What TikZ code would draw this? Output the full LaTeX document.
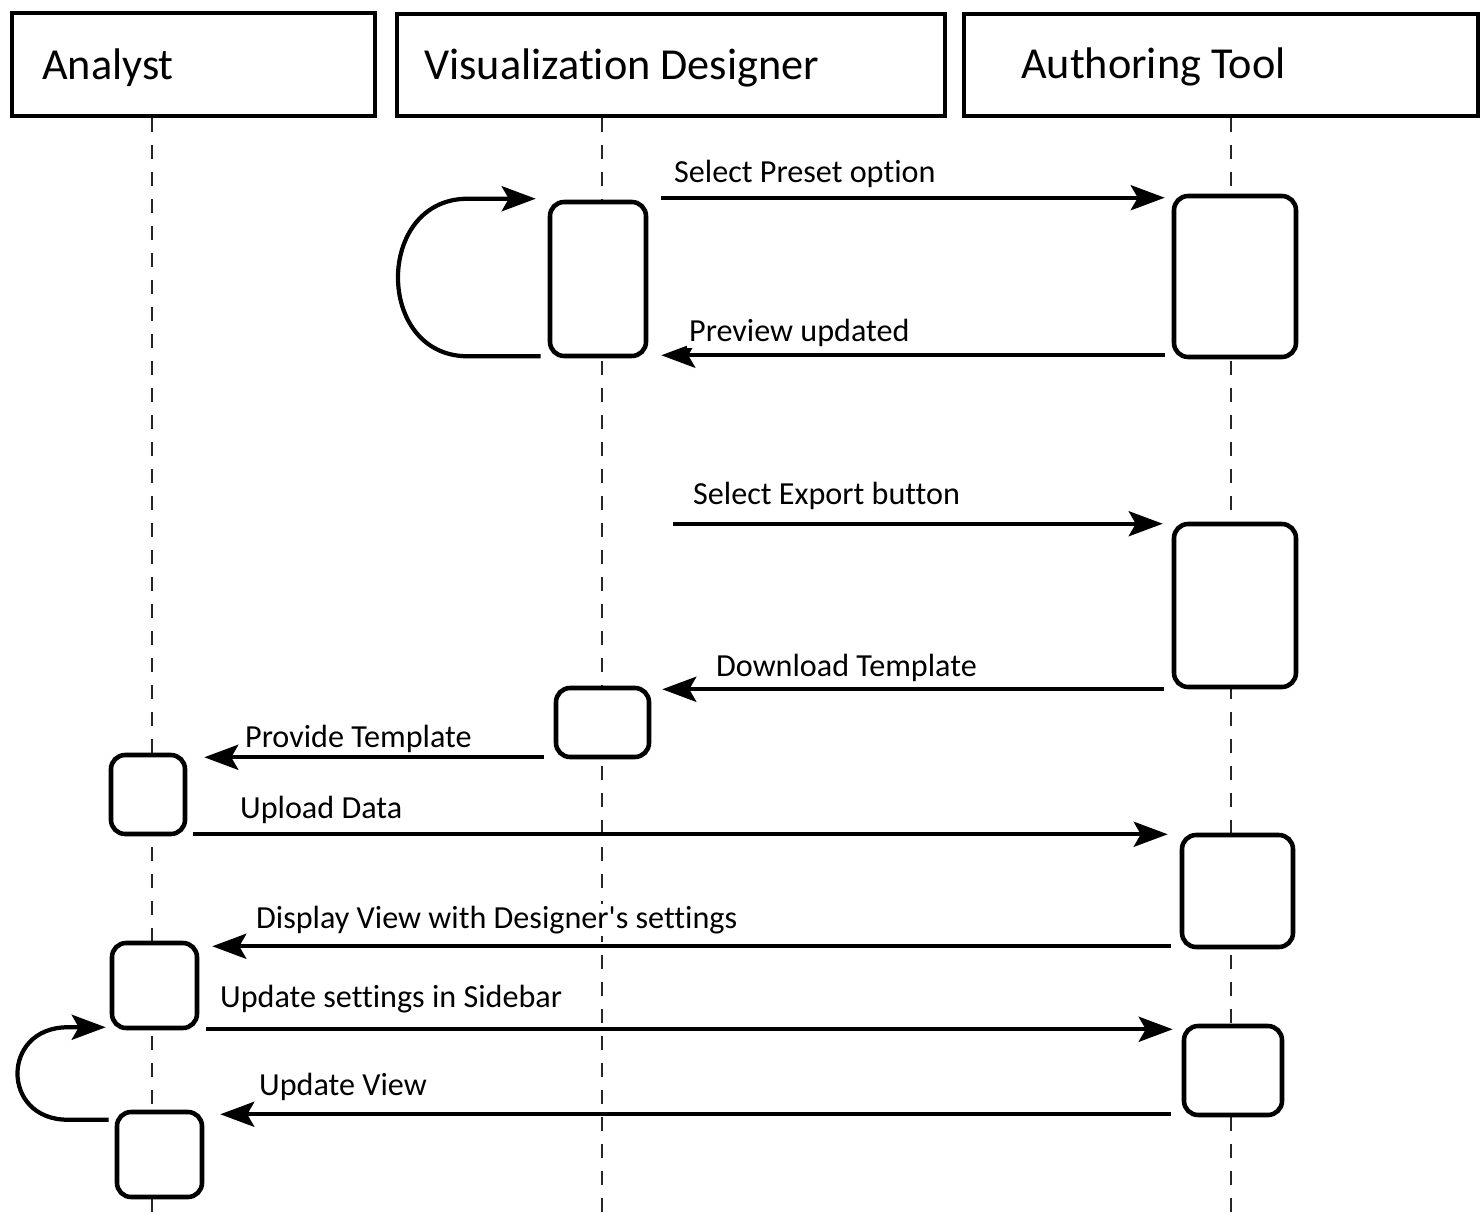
\documentclass[tikz,border=0pt]{standalone}
\usepackage{fontspec}
\setmainfont{Carlito}[Ligatures={NoCommon}]
\usetikzlibrary{arrows.meta,calc}

\begin{document}
\begin{tikzpicture}[x=0.02cm,y=-0.02cm,
    head/.style={draw,line width=2.5pt,inner sep=0},
    headtext/.style={anchor=base west,inner sep=0,font=\fontsize{25.2}{29}\selectfont},
    act/.style={draw,fill=white,line width=2.6pt,rounded corners=8pt,inner sep=0},
    life/.style={line width=0.8pt,black!85,dash pattern=on 0.28cm off 0.26cm},
    msg/.style={line width=2.4pt,-{Stealth[length=0.68cm,width=0.5cm,inset=0.14cm]}},
    lbl/.style={anchor=base west,inner sep=1pt,fill=white,font=\fontsize{18.3}{22}\selectfont}]
    \useasboundingbox (0,0) rectangle (1481,1213);

    \node[head,minimum width=7.26cm,minimum height=2.06cm] (analyst) at (193.5,64.5) {};
    \node[head,minimum width=10.96cm,minimum height=2.04cm] (designer) at (671,65) {};
    \node[head,minimum width=10.28cm,minimum height=2.04cm] (tool) at (1221,65) {};
    \node[headtext] (analysttext) at ($(analyst.west)+(32,15.5)$) {Analyst};
    \node[headtext] (designertext) at ($(designer.west)+(29,15)$) {Visualization Designer};
    \node[headtext] (tooltext) at ($(tool.west)+(59,14)$) {Authoring Tool};

    \coordinate (analystend) at (152,1213);
    \coordinate (designerend) at (602,1213);
    \coordinate (toolend) at (1231,1213);
    \draw[life] (analyst.south -| analystend) -- (analystend);
    \draw[life] (designer.south -| designerend) -- (designerend);
    \draw[life] (tool.south -| toolend) -- (toolend);

    \node[act,minimum width=1.92cm,minimum height=3.08cm] (d1) at (598,279) {};
    \node[act,minimum width=2.44cm,minimum height=3.22cm] (t1) at (1235,276.5) {};
    \node[act,minimum width=2.44cm,minimum height=3.26cm] (t2) at (1235,605.5) {};
    \node[act,minimum width=1.86cm,minimum height=1.38cm] (d2) at (602.5,722.5) {};
    \node[act,minimum width=1.48cm,minimum height=1.58cm] (n1) at (148,794.5) {};
    \node[act,minimum width=2.22cm,minimum height=2.24cm] (t3) at (1237.5,891) {};
    \node[act,minimum width=1.7cm,minimum height=1.7cm] (n2) at (154.5,985.5) {};
    \node[act,minimum width=1.96cm,minimum height=1.78cm] (t4) at (1233,1070.5) {};
    \node[act,minimum width=1.7cm,minimum height=1.7cm] (n3) at (159.5,1154.5) {};

    \draw[msg] ($(d1.north east)+(13,-2)$) -- node[lbl,pos=0,xshift=0.18cm,yshift=0.3cm] (m1) {Select Preset option} ($(d1.north east -| t1.west)+(-7,-2)$);
    \draw[msg] ($(t1.south west)+(-7,-4)$) -- node[lbl,pos=1,xshift=0.48cm,yshift=0.28cm] (m2) {Preview updated} ($(t1.south west -| d1.east)+(13,-4)$);
    \draw[msg] ($(d1.south west)+(-7,-2)$) -- ($(d1.south west)+(-80,-2)$)
        .. controls ($(d1.south west)+(-173,-2)$) and ($(d1.north west)+(-173,-1)$) .. ($(d1.north west)+(-80,-1)$)
        -- ($(d1.north west)+(-12,-1)$);
    \draw[msg] ($(t2.north west -| d1.east)+(25,2)$) -- node[lbl,pos=0,xshift=0.32cm,yshift=0.38cm] (m3) {Select Export button} ($(t2.north west)+(-9,2)$);
    \draw[msg] ($(t2.south west)+(-8,0)$) -- node[lbl,pos=1,xshift=1cm,yshift=0.26cm] (m4) {Download Template} ($(t2.south west -| d2.east)+(11,0)$);
    \draw[msg] ($(d2.south west)+(-10,-2)$) -- node[lbl,pos=1,xshift=0.74cm,yshift=0.2cm] (m5) {Provide Template} ($(d2.south west -| n1.east)+(17,-2)$);
    \draw[msg] ($(n1.south east)+(6,-2)$) -- node[lbl,pos=0,xshift=0.86cm,yshift=0.32cm] (m6) {Upload Data} ($(n1.south east -| t3.west)+(-12,-2)$);
    \draw[msg] ($(t3.south west)+(-9,-3)$) -- node[lbl,pos=1,xshift=0.8cm,yshift=0.36cm] (m7) {Display View with Designer\textquotesingle s settings} ($(t3.south west -| n2.east)+(13,-3)$);
    \draw[msg] ($(n2.south east)+(7,-1)$) -- node[lbl,pos=0,xshift=0.2cm,yshift=0.44cm] (m8) {Update settings in Sidebar} ($(n2.south east -| t4.west)+(-9,-1)$);
    \draw[msg] ($(n3.north west)+(-6,10)$) -- ($(n3.north west)+(-47,10)$)
        .. controls ($(n3.north west)+(-114,10)$) and ($(n2.south west)+(-109,-3)$) .. ($(n2.south west)+(-42,-3)$)
        -- ($(n2.south west)+(-4,-3)$);
    \draw[msg] ($(t4.south west)+(-11,-3)$) -- node[lbl,pos=1,xshift=0.7cm,yshift=0.38cm] (m9) {Update View} ($(t4.south west -| n3.east)+(16,-3)$);
\end{tikzpicture}
\end{document}
